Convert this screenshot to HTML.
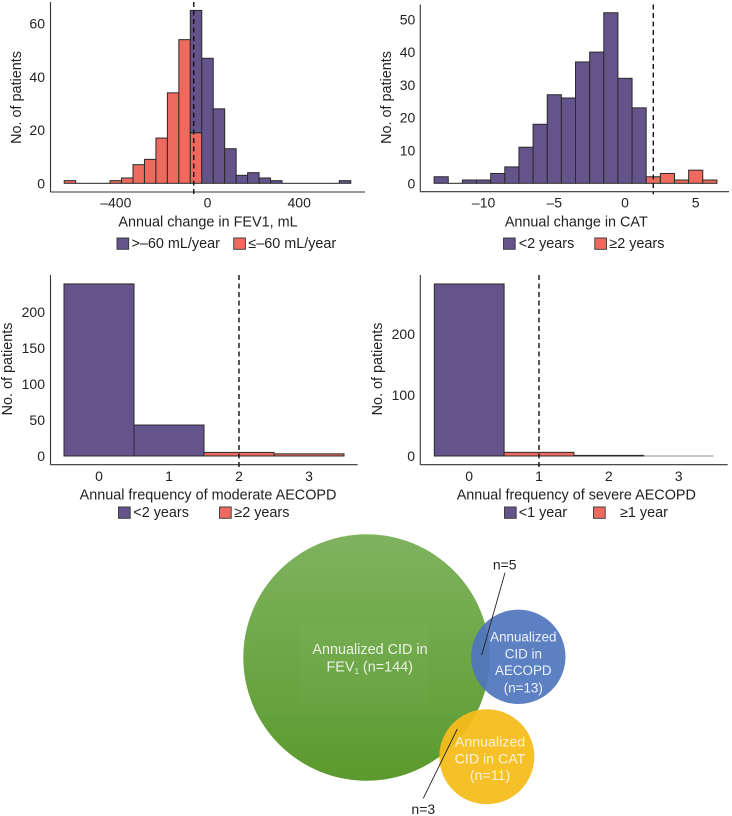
<!DOCTYPE html>
<html lang="en">
<head>
<meta charset="utf-8">
<title>Annualized CID histograms and Venn diagram</title>
<style>
html,body{margin:0;padding:0;background:#fff;}
body{width:732px;height:816px;overflow:hidden;}
svg{display:block;font-family:"Liberation Sans",Arial,sans-serif;}
text{fill:#222;}
</style>
</head>
<body>
<svg id="figure" width="732" height="816" viewBox="0 0 732 816" xmlns="http://www.w3.org/2000/svg">
  <defs>
    <linearGradient id="greenFill" x1="0" y1="0" x2="0" y2="1">
      <stop offset="0" stop-color="#7FB35F"/>
      <stop offset="1" stop-color="#5B9A2E"/>
    </linearGradient>
  </defs>
  <g id="panels"></g>
  <g>
    <circle cx="366.5" cy="657.5" r="123.2" fill="url(#greenFill)"/>
    <rect x="299.3" y="622.7" width="129" height="81.3" fill="#ffffff" opacity="0.025"/>
    <circle cx="518.3" cy="656.8" r="47.2" fill="#4F75BE" fill-opacity="0.92"/>
    <circle cx="486.8" cy="756.7" r="47.5" fill="#F6BD1C" fill-opacity="0.95"/>
    <line x1="505" y1="572.7" x2="481.7" y2="655" stroke="#222" stroke-width="0.9"/>
    <line x1="457.3" y1="729" x2="423.3" y2="798.3" stroke="#222" stroke-width="0.9"/>
    <g text-anchor="middle">
      <text font-size="14.4" style="fill:#EAF3E2" x="370" y="654">Annualized CID in</text>
      <text font-size="14.4" style="fill:#EAF3E2" x="369.7" y="671.3">FEV<tspan font-size="8" dy="2.5">1</tspan><tspan dy="-2.5"> (n=144)</tspan></text>
      <text font-size="13.4" style="fill:#EDF1F9" x="523.3" y="641.7">Annualized</text>
      <text font-size="13.4" style="fill:#EDF1F9" x="523.3" y="658.3">CID in</text>
      <text font-size="13.4" style="fill:#EDF1F9" x="523.3" y="675">AECOPD</text>
      <text font-size="13.4" style="fill:#EDF1F9" x="523.3" y="692.3">(n=13)</text>
      <text font-size="14.2" style="fill:#FDF4DA" x="490" y="746.7">Annualized</text>
      <text font-size="14.2" style="fill:#FDF4DA" x="490" y="763.3">CID in CAT</text>
      <text font-size="14.2" style="fill:#FDF4DA" x="490" y="780">(n=11)</text>
      <text font-size="14" x="504.7" y="569.3">n=5</text>
      <text font-size="14" x="423.3" y="814">n=3</text>
    </g>
  </g>
</svg>
<script>
// ---- chart data ----
const fev1Bins = [-600,-550,-500,-450,-400,-350,-300,-250,-200,-150,-100,-50,0,50,100,150,200,250,300,350,400,450,500,550,600];
const fev1Above = [0,0,0,0,0,0,0,0,0,0,0,46,47,28,13,3,4,2,1,0,0,0,0,0,1];
const fev1Below = [1,0,0,0,1,2,7,9,17,34,54,19,0,0,0,0,0,0,0,0,0,0,0,0,0];
const fev1XTicks = [-400,0,400];
const fev1YTicks = [0,20,40,60];
const fev1Cutoff = -60;

const catBins = [-13,-12,-11,-10,-9,-8,-7,-6,-5,-4,-3,-2,-1,0,1,2,3,4,5,6];
const catAbove = [2,0,1,1,3,5,11,18,27,26,37,40,52,32,23,0,0,0,0,0];
const catBelow = [0,0,0,0,0,0,0,0,0,0,0,0,0,0,0,2,3,1,4,1];
const catXTicks = [-10,-5,0,5];
const catYTicks = [0,10,20,30,40,50];
const catCutoff = 2;

const modBins = [0,1,2,3];
const modAbove = [239,43,0,0];
const modBelow = [0,0,5,3];
const modXTicks = [0,1,2,3];
const modYTicks = [0,50,100,150,200];
const modCutoff = 2;

const sevBins = [0,1,2,3];
const sevAbove = [282,0,0,0];
const sevBelow = [0,6,1,0];
const sevXTicks = [0,1,2,3];
const sevYTicks = [0,100,200];
const sevCutoff = 1;

const PURPLE = '#64548C';
const RED = '#EF6A5E';
const SVGNS = 'http://www.w3.org/2000/svg';
const root = document.getElementById('panels');

function el(parent, tag, attrs, txt) {
  const e = document.createElementNS(SVGNS, tag);
  for (const k in attrs) e.setAttribute(k, attrs[k]);
  if (txt !== undefined) e.textContent = txt;
  parent.appendChild(e);
  return e;
}
function linear(d0, d1, r0, r1) {
  return function (v) { return r0 + (v - d0) * (r1 - r0) / (d1 - d0); };
}
function fmt(v) { return v < 0 ? '\u2013' + Math.abs(v) : String(v); }

function drawPanel(c) {
  const g = el(root, 'g', {});
  
  
  const x = linear(c.xd[0], c.xd[1], c.xr[0], c.xr[1]);
  const y = linear(c.yd[0], c.yd[1], c.yr[0], c.yr[1]);
  const halfWidth = Math.abs(x(c.bins[1]) - x(c.bins[0])) / 2;

  c.bins.forEach(function (b, i) {
    const lower = c.below[i];
    const upper = c.above[i];
    if (lower + upper === 0) {
      const z = el(g, 'line', {x1: x(b) - halfWidth, y1: y(0), x2: x(b) + halfWidth, y2: y(0), stroke: c.zeroStroke, 'stroke-width': 1});
      
      
      return;
    }
    if (lower > 0) {
      const r1 = el(g, 'rect', {x: x(b) - halfWidth, y: y(lower), width: halfWidth * 2, height: y(0) - y(lower), fill: RED, stroke: '#2a2a2a', 'stroke-width': 1});
      
      
    }
    if (upper > 0) {
      const r2 = el(g, 'rect', {x: x(b) - halfWidth, y: y(lower + upper), width: halfWidth * 2, height: y(lower) - y(lower + upper), fill: PURPLE, stroke: '#2a2a2a', 'stroke-width': 1});
      
      
    }
  });

  const yAxis = el(g, 'line', {x1: c.axisX, y1: c.axisTop, x2: c.axisX, y2: c.axisY, stroke: '#333', 'stroke-width': 1.1});
  
  
  const xAxis = el(g, 'line', {x1: c.axisX, y1: c.axisY, x2: c.axisRight, y2: c.axisY, stroke: '#333', 'stroke-width': 1.1});
  
  

  const cut = el(g, 'line', {x1: x(c.cutoff), y1: c.axisTop, x2: x(c.cutoff), y2: c.axisY + 2.5, stroke: '#111', 'stroke-width': 1.4, 'stroke-dasharray': '5 3.5'});
  
  

  c.yTicks.forEach(function (t) {
    const lab = el(g, 'text', {x: c.yLabelX, y: y(t) + 5, 'text-anchor': 'end', 'font-size': 14}, fmt(t));
    
    
  });
  c.xTicks.forEach(function (t) {
    const lab = el(g, 'text', {x: x(t), y: c.xLabelY, 'text-anchor': 'middle', 'font-size': 14}, fmt(t));
    
    
  });

  const xt = el(g, 'text', {x: c.xTitle[0], y: c.xTitle[1], 'text-anchor': 'middle', 'font-size': 14.4}, c.xLabel);
  
  
  const yt = el(g, 'text', {transform: 'translate(' + c.yTitle[0] + ' ' + c.yTitle[1] + ') rotate(-90)', 'text-anchor': 'middle', 'font-size': 14.4}, 'No. of patients');
  
  

  c.legend.forEach(function (item) {
    const s = el(g, 'rect', {x: item.sx, y: c.legendY, width: 11.7, height: 11.3, fill: item.color, stroke: '#333', 'stroke-width': 0.9});
    
    
    const t = el(g, 'text', {x: item.tx, y: c.legendY + 10, 'font-size': 14.4}, item.label);
    
    
  });
}

drawPanel({
  id: 'fev1', bins: fev1Bins, above: fev1Above, below: fev1Below, cutoff: fev1Cutoff, xTicks: fev1XTicks, yTicks: fev1YTicks, zeroStroke: '#222',
  xd: [0, 400], xr: [207.5, 299.2], yd: [0, 60], yr: [183.3, 23.7],
  axisX: 50.5, axisY: 192, axisTop: 2, axisRight: 365, yLabelX: 45, xLabelY: 207.7,
  xLabel: 'Annual change in FEV1, mL', xTitle: [208, 226.7], yTitle: [21, 97.5], legendY: 238,
  legend: [{sx: 117, tx: 131.5, color: PURPLE, label: '>\u201360 mL/year'}, {sx: 233.7, tx: 248.3, color: RED, label: '\u2264\u201360 mL/year'}]
});
drawPanel({
  id: 'cat', bins: catBins, above: catAbove, below: catBelow, cutoff: catCutoff, xTicks: catXTicks, yTicks: catYTicks, zeroStroke: '#222',
  xd: [0, 5], xr: [625, 695.7], yd: [0, 50], yr: [183.3, 19.3],
  axisX: 420.3, axisY: 191.7, axisTop: 4.5, axisRight: 729, yLabelX: 415.3, xLabelY: 207.7,
  xLabel: 'Annual change in CAT', xTitle: [576.3, 226.7], yTitle: [391, 97.5], legendY: 238,
  legend: [{sx: 503.5, tx: 518.7, color: PURPLE, label: '<2 years'}, {sx: 594.8, tx: 609.3, color: RED, label: '\u22652 years'}]
});
drawPanel({
  id: 'moderate', bins: modBins, above: modAbove, below: modBelow, cutoff: modCutoff, xTicks: modXTicks, yTicks: modYTicks, zeroStroke: '#222',
  xd: [0, 3], xr: [99, 309], yd: [0, 200], yr: [456, 312],
  axisX: 50.5, axisY: 464.7, axisTop: 275, axisRight: 357.7, yLabelX: 45, xLabelY: 481,
  xLabel: 'Annual frequency of moderate AECOPD', xTitle: [208, 499.3], yTitle: [12, 369], legendY: 507,
  legend: [{sx: 118.5, tx: 133.3, color: PURPLE, label: '<2 years'}, {sx: 219.5, tx: 234.3, color: RED, label: '\u22652 years'}]
});
drawPanel({
  id: 'severe', bins: sevBins, above: sevAbove, below: sevBelow, cutoff: sevCutoff, xTicks: sevXTicks, yTicks: sevYTicks, zeroStroke: '#888',
  xd: [0, 3], xr: [469.2, 678.6], yd: [0, 200], yr: [456, 334],
  axisX: 420.3, axisY: 464.7, axisTop: 275, axisRight: 727.7, yLabelX: 415, xLabelY: 481,
  xLabel: 'Annual frequency of severe AECOPD', xTitle: [576.3, 499.3], yTitle: [382, 369], legendY: 507,
  legend: [{sx: 504.5, tx: 518.7, color: PURPLE, label: '<1 year'}, {sx: 593.5, tx: 620, color: RED, label: '\u22651 year'}]
});
</script>
</body>
</html>
